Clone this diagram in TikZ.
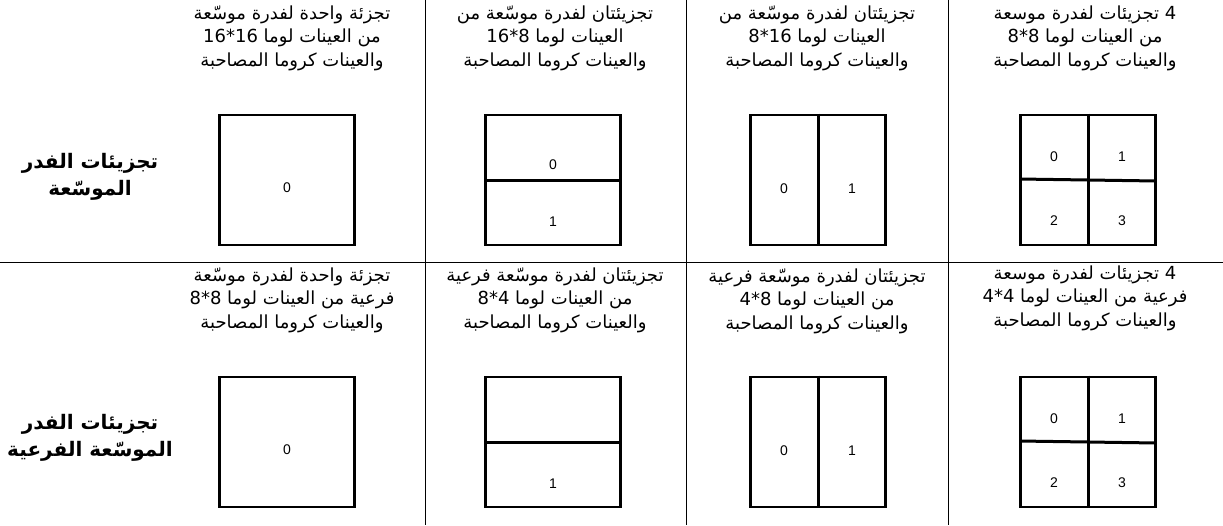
\documentclass[tikz,border=0pt]{standalone}
\usepackage{fontspec}
\setmainfont{Liberation Sans}
\newfontfamily\arabicfont[Script=Arabic]{DejaVu Sans}
\TeXXeTstate=1
\newcommand\arl[1]{\beginR#1\endR}
\begin{document}
\begin{tikzpicture}[x=1pt,y=-1pt,
  desc/.style={font=\arabicfont\fontsize{18}{23.5}\selectfont, align=center, inner sep=0pt},
  rowlab/.style={font=\arabicfont\bfseries\fontsize{20}{27}\selectfont, align=center, inner sep=0pt},
  blk/.style={draw, line width=2.6pt, minimum width=135pt, minimum height=130pt, inner sep=0pt},
  split/.style={line width=3pt},
  num/.style={font=\fontsize{14}{14}\selectfont, inner sep=0pt},
  rule/.style={line width=0.9pt}]
\useasboundingbox (0,0) rectangle (1223,525);

% grid
\coordinate (h0) at (0,262);
\coordinate (h1) at (1223,262);
\draw[rule] (h0) -- (h1);
\foreach \x [count=\i] in {425,686,948}{
  \coordinate (vt\i) at (\x,0);
  \coordinate (vb\i) at (\x,525);
  \draw[rule] (vt\i) -- (vb\i);
}

% row labels
\node[rowlab] (lab1) at (90,177) {\arl{تجزيئات الفدر}\\ \arl{الموسّعة}};
\node[rowlab] (lab2) at (90,438) {\arl{تجزيئات الفدر}\\ \arl{الموسّعة الفرعية}};

% descriptions row 1
\node[desc] (t11) at (292,38) {\arl{تجزئة واحدة لفدرة موسّعة}\\ \arl{من العينات لوما \beginL16*16\endL}\\ \arl{والعينات كروما المصاحبة}};
\node[desc] (t12) at (555,38) {\arl{تجزيئتان لفدرة موسّعة من}\\ \arl{العينات لوما \beginL8*16\endL}\\ \arl{والعينات كروما المصاحبة}};
\node[desc] (t13) at (817,38) {\arl{تجزيئتان لفدرة موسّعة من}\\ \arl{العينات لوما \beginL16*8\endL}\\ \arl{والعينات كروما المصاحبة}};
\node[desc] (t14) at (1085,38) {\arl{4 تجزيئات لفدرة موسعة}\\ \arl{من العينات لوما \beginL8*8\endL}\\ \arl{والعينات كروما المصاحبة}};

% descriptions row 2
\node[desc] (t21) at (292,300) {\arl{تجزئة واحدة لفدرة موسّعة}\\ \arl{فرعية من العينات لوما \beginL8*8\endL}\\ \arl{والعينات كروما المصاحبة}};
\node[desc] (t22) at (555,300) {\arl{تجزيئتان لفدرة موسّعة فرعية}\\ \arl{من العينات لوما \beginL4*8\endL}\\ \arl{والعينات كروما المصاحبة}};
\node[desc] (t23) at (817,301) {\arl{تجزيئتان لفدرة موسّعة فرعية}\\ \arl{من العينات لوما \beginL8*4\endL}\\ \arl{والعينات كروما المصاحبة}};
\node[desc] (t24) at (1085,298) {\arl{4 تجزيئات لفدرة موسعة}\\ \arl{فرعية من العينات لوما \beginL4*4\endL}\\ \arl{والعينات كروما المصاحبة}};

% boxes
\foreach \r/\y in {1/180,2/442}{
  \node[blk] (b\r1) at (287,\y) {};
  \node[blk] (b\r2) at (553,\y) {};
  \node[blk] (b\r3) at (818,\y) {};
  \node[blk] (b\r4) at (1088,\y) {};
  \draw[split] (b\r2.west) -- (b\r2.east);
  \draw[split] (b\r3.north) -- (b\r3.south);
  \draw[split] (b\r4.north) -- (b\r4.south);
  \draw[split] ([yshift=1pt]b\r4.west) -- ([yshift=-1pt]b\r4.east);
  \node[num] (n\r1a) at ([yshift=-8pt]b\r1.center) {0};
  \node[num] (n\r3a) at ([xshift=-34pt,yshift=-9pt]b\r3.center) {0};
  \node[num] (n\r3b) at ([xshift=34pt,yshift=-9pt]b\r3.center) {1};
  \node[num] (n\r4a) at ([xshift=-34pt,yshift=23pt]b\r4.center) {0};
  \node[num] (n\r4b) at ([xshift=34pt,yshift=23pt]b\r4.center) {1};
  \node[num] (n\r4c) at ([xshift=-34pt,yshift=-41pt]b\r4.center) {2};
  \node[num] (n\r4d) at ([xshift=34pt,yshift=-41pt]b\r4.center) {3};
  \node[num] (n\r2b) at ([yshift=-42pt]b\r2.center) {1};
}
\node[num] (n12a) at ([yshift=15pt]b12.center) {0};
\end{tikzpicture}
\end{document}
